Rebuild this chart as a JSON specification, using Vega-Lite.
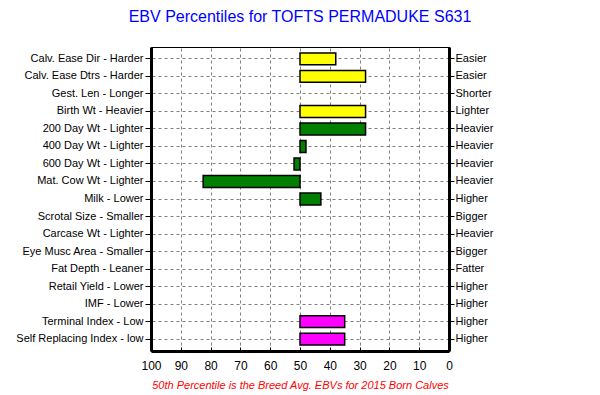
{
  "$schema": "https://vega.github.io/schema/vega-lite/v6.json",
  "autosize": {"type": "none"},
  "padding": {"left": 151, "top": 47, "right": 151, "bottom": 45},
  "width": 298,
  "height": 304,
  "title": {
    "text": "EBV Percentiles for TOFTS PERMADUKE S631",
    "color": "#0000FF",
    "fontSize": 16,
    "fontWeight": "normal",
    "font": "Liberation Sans",
    "anchor": "middle",
    "frame": "group",
    "offset": 22
  },
  "data": {
    "values": [
      {"order": 1, "label": "Calv. Ease Dir - Harder", "right": "Easier", "value": 38, "group": "calving"},
      {"order": 2, "label": "Calv. Ease Dtrs - Harder", "right": "Easier", "value": 28, "group": "calving"},
      {"order": 3, "label": "Gest. Len - Longer", "right": "Shorter", "value": 50, "group": "calving"},
      {"order": 4, "label": "Birth Wt - Heavier", "right": "Lighter", "value": 28, "group": "calving"},
      {"order": 5, "label": "200 Day Wt - Lighter", "right": "Heavier", "value": 28, "group": "growth"},
      {"order": 6, "label": "400 Day Wt - Lighter", "right": "Heavier", "value": 48, "group": "growth"},
      {"order": 7, "label": "600 Day Wt - Lighter", "right": "Heavier", "value": 52, "group": "growth"},
      {"order": 8, "label": "Mat. Cow Wt - Lighter", "right": "Heavier", "value": 82.5, "group": "growth"},
      {"order": 9, "label": "Milk - Lower", "right": "Higher", "value": 43, "group": "growth"},
      {"order": 10, "label": "Scrotal Size - Smaller", "right": "Bigger", "value": 50, "group": "growth"},
      {"order": 11, "label": "Carcase Wt - Lighter", "right": "Heavier", "value": 50, "group": "growth"},
      {"order": 12, "label": "Eye Musc Area - Smaller", "right": "Bigger", "value": 50, "group": "growth"},
      {"order": 13, "label": "Fat Depth - Leaner", "right": "Fatter", "value": 50, "group": "growth"},
      {"order": 14, "label": "Retail Yield - Lower", "right": "Higher", "value": 50, "group": "growth"},
      {"order": 15, "label": "IMF - Lower", "right": "Higher", "value": 50, "group": "growth"},
      {"order": 16, "label": "Terminal Index - Low", "right": "Higher", "value": 35, "group": "index"},
      {"order": 17, "label": "Self Replacing Index - low", "right": "Higher", "value": 35, "group": "index"}
    ]
  },
  "layer": [
    {
      "mark": {"type": "bar", "stroke": "black"},
      "encoding": {
        "y": {
          "field": "label",
          "type": "nominal",
          "sort": {"field": "order"},
          "scale": {"paddingInner": 0.32, "paddingOuter": 0.34},
          "axis": {
            "orient": "left",
            "title": null,
            "grid": true,
            "gridColor": "#808080",
            "gridDash": [3, 3],
            "gridWidth": 1,
            "gridOpacity": 1,
            "domain": true,
            "domainColor": "black",
            "domainWidth": 3,
            "ticks": true,
            "tickColor": "black",
            "tickSize": 6,
            "labelPadding": 2,
            "labelFontSize": 11,
            "labelColor": "black",
            "labelFont": "Liberation Sans"
          }
        },
        "x": {
          "field": "value",
          "type": "quantitative",
          "scale": {"domain": [0, 100], "reverse": true, "nice": false},
          "axis": {
            "orient": "bottom",
            "values": [0, 10, 20, 30, 40, 50, 60, 70, 80, 90, 100],
            "labelOverlap": false,
            "labelFlush": false,
            "labelBound": false,
            "grid": true,
            "gridColor": "#808080",
            "gridDash": [3, 3],
            "gridWidth": 1,
            "gridOpacity": 1,
            "domain": true,
            "domainColor": "black",
            "domainWidth": 3,
            "ticks": true,
            "tickColor": "black",
            "tickSize": -4,
            "labelPadding": 13,
            "labelFontSize": 12,
            "labelColor": "black",
            "labelFont": "Liberation Sans",
            "title": "50th Percentile is the Breed Avg. EBVs for 2015 Born Calves",
            "titleColor": "#FF0000",
            "titleFont": "Liberation Sans",
            "titleFontSize": 11,
            "titleFontStyle": "italic",
            "titleFontWeight": "normal",
            "titlePadding": 8
          }
        },
        "x2": {"datum": 50},
        "strokeWidth": {"condition": {"test": "datum.value == 50", "value": 0}, "value": 1.5},
        "color": {
          "field": "group",
          "type": "nominal",
          "scale": {"domain": ["calving", "growth", "index"], "range": ["#FFFF00", "#008000", "#FF00FF"]},
          "legend": null
        }
      }
    },
    {
      "mark": {"type": "point", "opacity": 0},
      "encoding": {
        "y": {
          "field": "label",
          "type": "nominal",
          "sort": {"field": "order"},
          "axis": {
            "orient": "right",
            "title": null,
            "grid": false,
            "domain": true,
            "domainColor": "black",
            "domainWidth": 3,
            "ticks": true,
            "tickColor": "black",
            "tickSize": 5,
            "labelPadding": 1,
            "labelFontSize": 11,
            "labelColor": "black",
            "labelFont": "Liberation Sans",
            "labelExpr": "{'Calv. Ease Dir - Harder':'Easier','Calv. Ease Dtrs - Harder':'Easier','Gest. Len - Longer':'Shorter','Birth Wt - Heavier':'Lighter','200 Day Wt - Lighter':'Heavier','400 Day Wt - Lighter':'Heavier','600 Day Wt - Lighter':'Heavier','Mat. Cow Wt - Lighter':'Heavier','Milk - Lower':'Higher','Scrotal Size - Smaller':'Bigger','Carcase Wt - Lighter':'Heavier','Eye Musc Area - Smaller':'Bigger','Fat Depth - Leaner':'Fatter','Retail Yield - Lower':'Higher','IMF - Lower':'Higher','Terminal Index - Low':'Higher','Self Replacing Index - low':'Higher'}[datum.value]"
          }
        }
      }
    }
  ],
  "resolve": {"axis": {"y": "independent"}},
  "config": {
    "view": {"stroke": "black", "strokeWidth": 1},
    "font": "Liberation Sans",
    "background": "white"
  }
}
